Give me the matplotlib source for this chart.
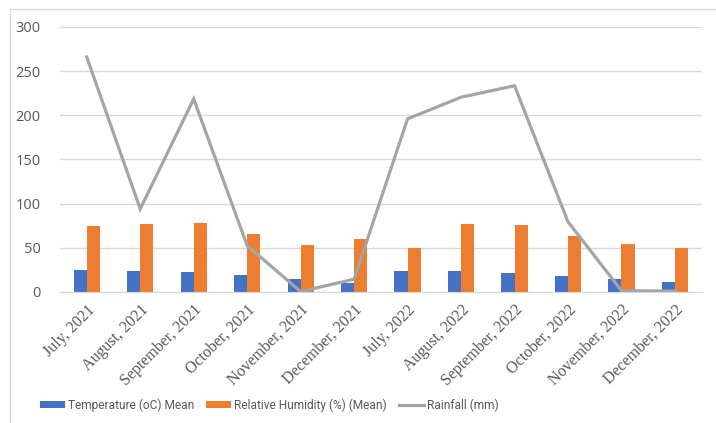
import numpy as np
import matplotlib.pyplot as plt
from matplotlib.lines import Line2D

months = ["July, 2021", "August, 2021", "September, 2021", "October, 2021",
          "November, 2021", "December, 2021", "July, 2022", "August, 2022",
          "September, 2022", "October, 2022", "November, 2022", "December, 2022"]
temperature = [24.5, 23.8, 22.6, 19.3, 14.4, 10.0, 23.8, 23.8, 21.9, 18.5, 14.7, 11.3]
humidity = [74.7, 77.4, 78.1, 65.3, 53.2, 60.0, 50.2, 77.4, 76.2, 63.4, 54.7, 50.2]
rainfall = [266, 94, 218.5, 52.5, 0.5, 14.5, 196, 220.5, 233.5, 79.5, 1.5, 1.0]

blue = "#4472c4"
orange = "#ed7d31"
gray = "#a5a5a5"
text_col = "#595959"

fig = plt.figure(figsize=(7.16, 4.23), dpi=100)
ax = fig.add_axes([0.0838, 0.3097, 0.8962, 0.6265])

x = np.arange(len(months))
w = 0.245
b1 = ax.bar(x - w / 2, temperature, w, color=blue, label="Temperature (oC) Mean", zorder=2)
b2 = ax.bar(x + w / 2, humidity, w, color=orange, label="Relative Humidity (%) (Mean)", zorder=2)
l1, = ax.plot(x, rainfall, color=gray, lw=2.3, label="Rainfall (mm)", zorder=3,
              solid_joinstyle="miter")

ax.set_xlim(-0.5, len(months) - 0.5)
ax.set_ylim(0, 300)
ax.set_yticks(range(0, 301, 50))
ax.yaxis.grid(True, color="#d9d9d9", lw=1.0, zorder=0)
ax.set_axisbelow(True)
for s in ["top", "right", "left"]:
    ax.spines[s].set_visible(False)
ax.spines["bottom"].set_color("#d9d9d9")
ax.tick_params(axis="both", length=0, colors=text_col)
ax.tick_params(axis="y", labelsize=10.5, pad=14)
ax.set_xticks(x)
ax.set_xticklabels(months, rotation=45, ha="right", rotation_mode="anchor",
                   family="Liberation Serif", fontsize=11.5, color=text_col)
ax.tick_params(axis="x", pad=7)
for lbl in ax.get_yticklabels():
    lbl.set_family("Open Sans")

leg = fig.legend([b1, b2, l1], [b1.get_label(), b2.get_label(), l1.get_label()],
                 loc="center", bbox_to_anchor=(0.376, 0.043), ncol=3, frameon=False,
                 prop={"family": "Roboto", "size": 8.6}, handlelength=2.1,
                 handleheight=0.6, handletextpad=0.25, columnspacing=1.0)
for t in leg.get_texts():
    t.set_color(text_col)

# chart frame
fig.add_artist(Line2D([10 / 716, 1], [1 - 9 / 423] * 2, color="#d9d9d9", lw=1.0))
fig.add_artist(Line2D([10 / 716] * 2, [0, 1 - 9 / 423], color="#d9d9d9", lw=1.0))

fig.savefig("out.png", dpi=100)
